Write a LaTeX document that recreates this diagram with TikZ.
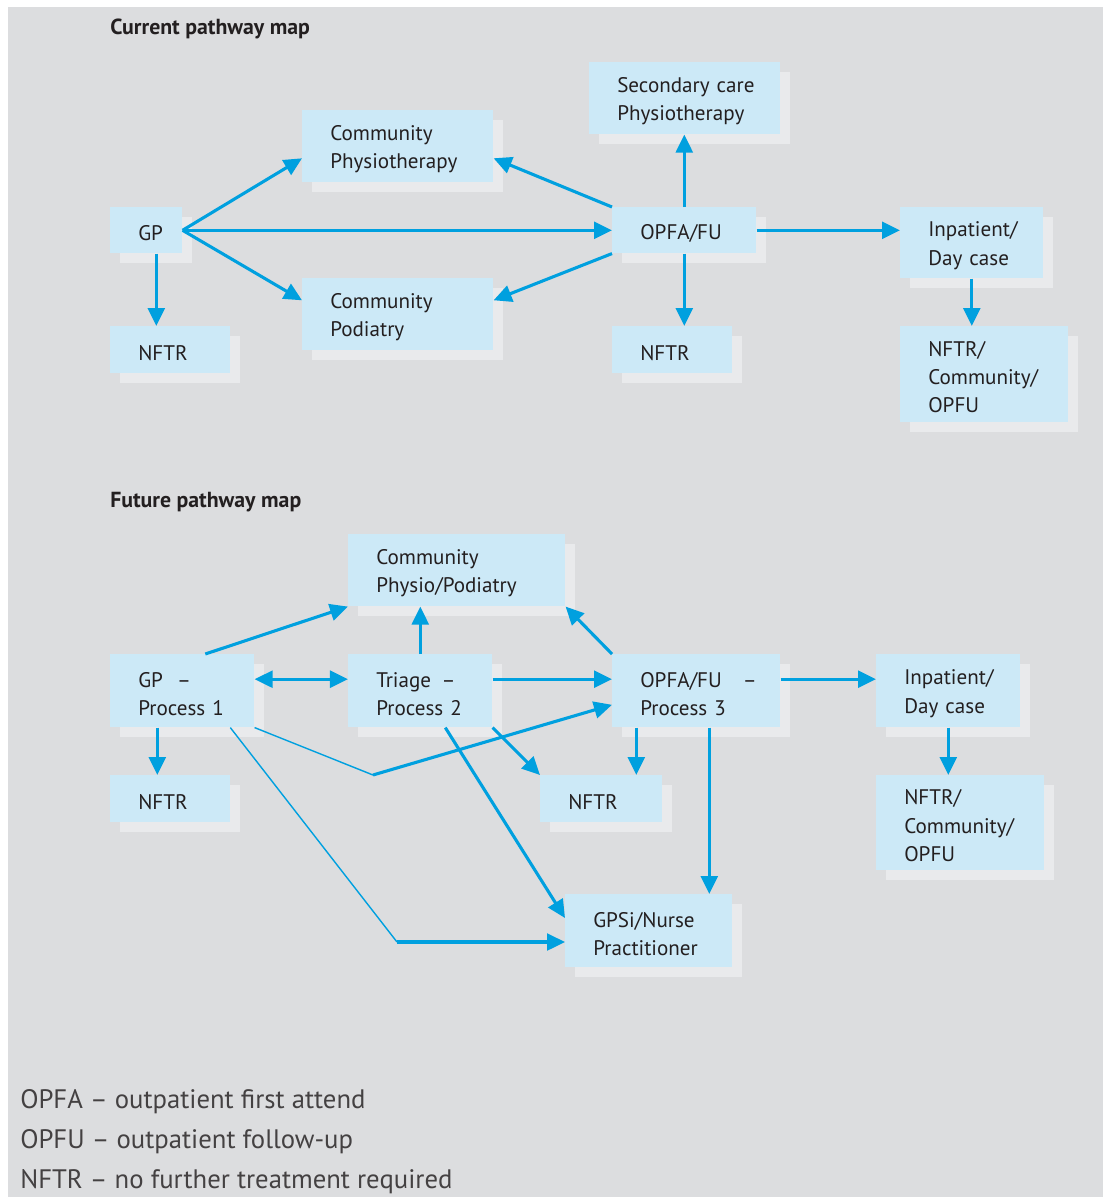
\documentclass[tikz,border=0pt]{standalone}
\usepackage{fontspec}
\setmainfont{PT Sans}
\usetikzlibrary{positioning, arrows.meta, shadows}
\definecolor{MAPbg}{RGB}{220, 221, 223}
\definecolor{MAPbox}{RGB}{204, 233, 247}
\definecolor{MAPshade}{RGB}{233, 234, 236}
\definecolor{MAPblue}{RGB}{0, 160, 223}
\definecolor{MAPtext}{RGB}{35, 31, 32}

\begin{document}
\begin{tikzpicture}[x=0.025cm, y=-0.025cm,
		stage/.style={shape=rectangle, fill=MAPbox, anchor=north west, align=left, inner xsep=0.7cm, inner ysep=0pt, text height=0.52cm, text=MAPtext, font=\fontsize{15pt}{20pt}\selectfont, execute at begin node={\hyphenpenalty=10000}, general shadow={fill=MAPshade, shadow xshift=0.25cm, shadow yshift=-0.25cm}},
		flow/.style={MAPblue, line width=2.2pt, -{Triangle[length=0.45cm, width=0.42cm]}},
		both/.style={MAPblue, line width=2.2pt, {Triangle[length=0.45cm, width=0.42cm]}-{Triangle[length=0.45cm, width=0.42cm]}},
		link/.style={MAPblue, line width=1pt},
		heading/.style={anchor=west, inner sep=0pt, text=MAPtext, font=\fontsize{15.5pt}{18pt}\selectfont\bfseries},
		key/.style={anchor=west, inner sep=0pt, text=MAPtext!85, font=\fontsize{19pt}{23pt}\selectfont}]

		\useasboundingbox (0,0) rectangle (1103,1197);
		\fill[MAPbg] (8,7) rectangle (1103,1197);

		% Current pathway
		\node[heading] (curr) at (110,29) {Current pathway map};
		\node[stage, text width=0.4cm, minimum height=1.15cm] (gpA) at (110,207) {GP};
		\node[stage, text width=1.6cm, minimum height=1.175cm] (nftrA) at (110,326) {NFTR};
		\node[stage, text width=3.375cm, minimum height=1.8cm] (cphys) at (302,110) {Community\\Physiotherapy};
		\node[stage, text width=3.375cm, minimum height=1.8cm] (cpod) at (302,278) {Community\\Podiatry};
		\node[stage, text width=3.375cm, minimum height=1.8cm] (secph) at (589,62) {Secondary~care\\Physiotherapy};
		\node[stage, text width=2.2cm, minimum height=1.15cm] (opfa) at (612,207) {OPFA/FU};
		\node[stage, text width=1.6cm, minimum height=1.175cm] (nftrB) at (612,326) {NFTR};
		\node[stage, text width=2.175cm, minimum height=1.775cm] (inpA) at (900,207) {Inpatient/\\Day~case};
		\node[stage, text width=2.8cm, minimum height=2.4cm] (nftrcA) at (900,326) {NFTR/\\Community/\\OPFU};
		\draw[flow] (gpA.east) -- ([yshift=-0.3cm]cphys.west);
		\draw[flow] (gpA.east) -- (opfa.west);
		\draw[flow] (gpA.east) -- ([yshift=0.35cm]cpod.west);
		\draw[flow] ([xshift=0.25cm]gpA.south) -- ([xshift=0.25cm]gpA.south |- nftrA.north);
		\draw[flow] (opfa.north west) -- ([yshift=-0.3cm]cphys.east);
		\draw[flow] (opfa.south west) -- ([yshift=0.35cm]cpod.east);
		\draw[flow] (opfa.north) -- (opfa.north |- secph.south);
		\draw[flow] (opfa.south) -- (opfa.south |- nftrB.north);
		\draw[flow] (opfa.east) -- (opfa.east -| inpA.west);
		\draw[flow] (inpA.south) -- (inpA.south |- nftrcA.north);

		% Future pathway
		\node[heading] (futr) at (110,502) {Future pathway map};
		\node[stage, text width=4.025cm, minimum height=1.8cm] (cpp) at (348,534) {Community\\Physio/Podiatry};
		\node[stage, text width=2.2cm, minimum height=1.825cm] (gpB) at (110,654) {\mbox{GP\enspace\,–}\\Process~1};
		\node[stage, text width=2.2cm, minimum height=1.825cm] (triage) at (348,654) {\mbox{Triage\enspace–}\\Process~2};
		\node[stage, text width=2.8cm, minimum height=1.825cm] (opfaB) at (612,654) {\mbox{OPFA/FU\quad–}\\Process~3};
		\node[stage, text width=1.6cm, minimum height=1.175cm] (nftrC) at (110,775) {NFTR};
		\node[stage, text width=1.65cm, minimum height=1.175cm] (nftrD) at (540,775) {NFTR};
		\node[stage, text width=2.2cm, minimum height=1.825cm] (inpB) at (876,654) {Inpatient/\\Day~case};
		\node[stage, text width=2.8cm, minimum height=2.375cm] (nftrcB) at (876,775) {NFTR/\\Community/\\OPFU};
		\node[stage, text width=2.775cm, minimum height=1.825cm] (gpsi) at (565,894) {GPSi/Nurse\\Practitioner};
		\coordinate (bendA) at (373,775);
		\coordinate (bendB) at (397,942);
		\draw[flow] ([xshift=0.575cm]gpB.north) -- (cpp.south west);
		\draw[both] ([yshift=0.29cm]gpB.east) -- ([yshift=0.29cm]triage.west);
		\draw[flow] (triage.north) -- (triage.north |- cpp.south);
		\draw[flow] ([yshift=0.29cm]triage.east) -- ([yshift=0.29cm]opfaB.west);
		\draw[flow] (opfaB.north west) -- (cpp.south east);
		\draw[flow] ([yshift=0.29cm]opfaB.east) -- ([yshift=0.29cm]inpB.west);
		\draw[flow] (inpB.south) -- (inpB.south |- nftrcB.north);
		\draw[flow] ([xshift=-0.625cm]gpB.south) -- ([xshift=-0.625cm]gpB.south |- nftrC.north);
		\draw[link] (gpB.south east) -- (bendA);
		\draw[flow] (bendA) -- ([yshift=-0.35cm]opfaB.west);
		\draw[flow] ([xshift=0.625cm]triage.south) -- ([yshift=-0.6cm]gpsi.north west);
		\draw[flow] (triage.south east) -- (nftrD.north west);
		\draw[flow] ([xshift=-1.5cm]opfaB.south) -- ([xshift=-1.5cm]opfaB.south |- nftrD.north);
		\draw[flow] ([xshift=0.325cm]opfaB.south) -- ([xshift=0.325cm]opfaB.south |- gpsi.north);
		\draw[link] ([xshift=1.2cm]gpB.south) -- (bendB);
		\draw[flow] (bendB) -- (bendB -| gpsi.west);

		% Key
		\node[key] (keyA) at (20,1102) {OPFA – outpatient first attend};
		\node[key] (keyB) at (20,1142) {OPFU – outpatient follow-up};
		\node[key] (keyC) at (20,1182) {NFTR – no further treatment required};
	\end{tikzpicture}
\end{document}
